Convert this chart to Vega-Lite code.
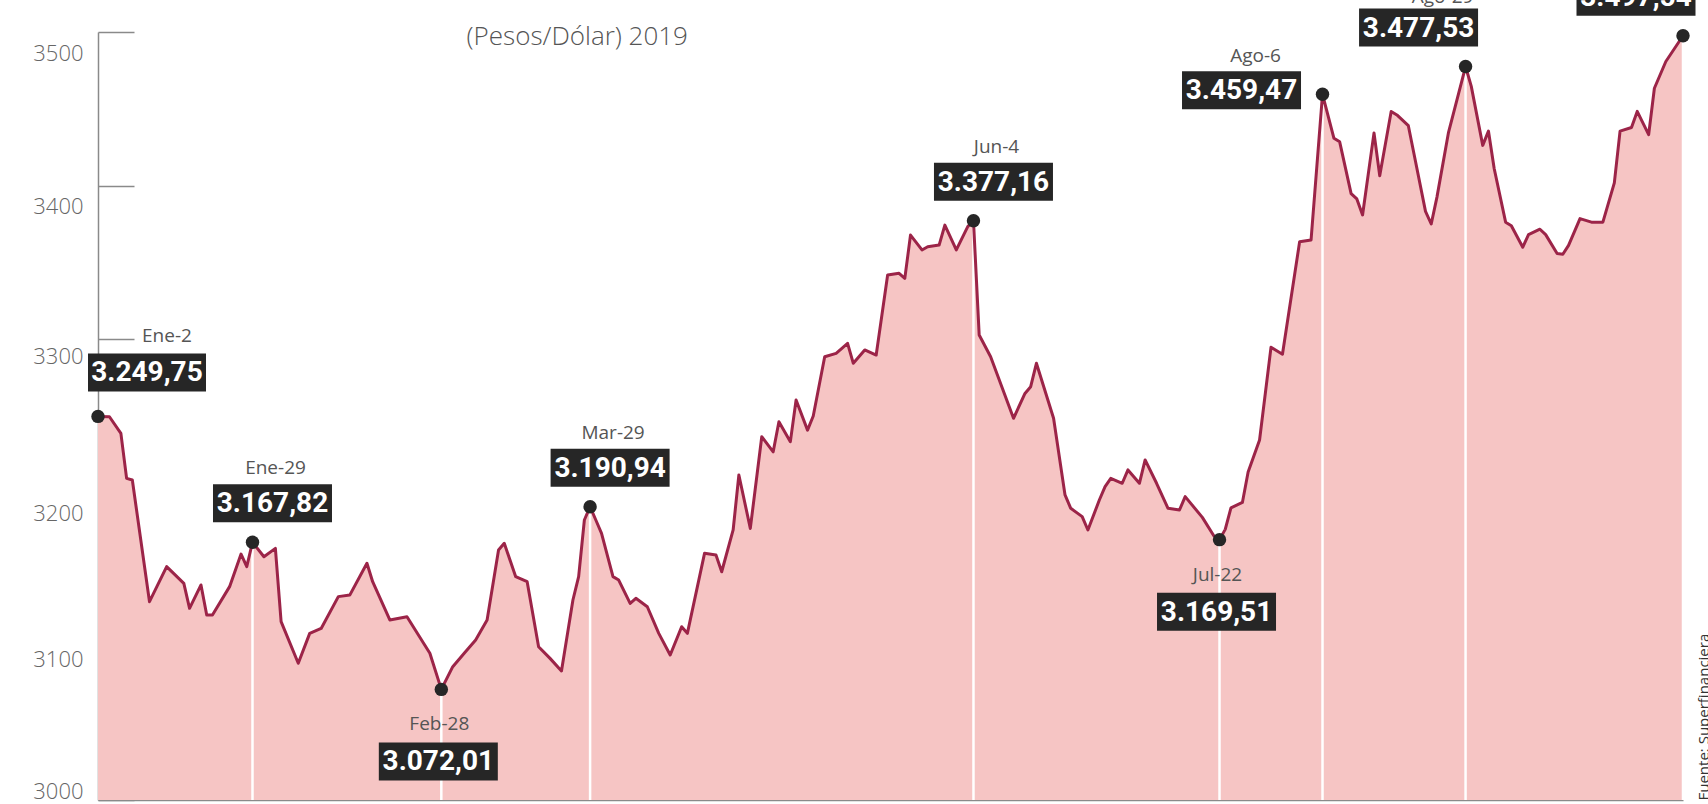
{
  "$schema": "https://vega.github.io/schema/vega-lite/v6.json",
  "width": 1585,
  "height": 768,
  "autosize": {"type": "none"},
  "padding": {"left": 98, "top": 32, "right": 25, "bottom": 4},
  "background": "white",
  "config": {
    "view": {"stroke": null},
    "locale": {"number": {"decimal": ",", "thousands": ".", "grouping": [3], "currency": ["$", ""]}},
    "font": "Open Sans"
  },
  "datasets": {
    "trm": [
      {"fecha": "2019-01-02", "valor": 3249.75},
      {"fecha": "2019-01-04", "valor": 3249.5},
      {"fecha": "2019-01-06", "valor": 3238.7},
      {"fecha": "2019-01-07", "valor": 3209.4},
      {"fecha": "2019-01-08", "valor": 3208.3},
      {"fecha": "2019-01-11", "valor": 3129.1},
      {"fecha": "2019-01-14", "valor": 3151.9},
      {"fecha": "2019-01-17", "valor": 3141.0},
      {"fecha": "2019-01-18", "valor": 3124.8},
      {"fecha": "2019-01-20", "valor": 3140.0},
      {"fecha": "2019-01-21", "valor": 3120.4},
      {"fecha": "2019-01-22", "valor": 3120.4},
      {"fecha": "2019-01-25", "valor": 3138.9},
      {"fecha": "2019-01-27", "valor": 3160.1},
      {"fecha": "2019-01-28", "valor": 3151.9},
      {"fecha": "2019-01-29", "valor": 3167.82},
      {"fecha": "2019-01-31", "valor": 3158.4},
      {"fecha": "2019-02-02", "valor": 3163.8},
      {"fecha": "2019-02-03", "valor": 3116.1},
      {"fecha": "2019-02-06", "valor": 3089.0},
      {"fecha": "2019-02-08", "valor": 3108.5},
      {"fecha": "2019-02-10", "valor": 3111.7},
      {"fecha": "2019-02-13", "valor": 3132.4},
      {"fecha": "2019-02-15", "valor": 3133.4},
      {"fecha": "2019-02-18", "valor": 3154.1},
      {"fecha": "2019-02-19", "valor": 3142.1},
      {"fecha": "2019-02-22", "valor": 3117.2},
      {"fecha": "2019-02-25", "valor": 3119.3},
      {"fecha": "2019-02-27", "valor": 3107.4},
      {"fecha": "2019-03-01", "valor": 3095.5},
      {"fecha": "2019-03-03", "valor": 3072.01},
      {"fecha": "2019-03-05", "valor": 3086.8},
      {"fecha": "2019-03-07", "valor": 3095.5},
      {"fecha": "2019-03-09", "valor": 3104.2},
      {"fecha": "2019-03-11", "valor": 3117.2},
      {"fecha": "2019-03-13", "valor": 3162.7},
      {"fecha": "2019-03-14", "valor": 3167.1},
      {"fecha": "2019-03-16", "valor": 3145.4},
      {"fecha": "2019-03-18", "valor": 3142.1},
      {"fecha": "2019-03-20", "valor": 3099.8},
      {"fecha": "2019-03-22", "valor": 3092.2},
      {"fecha": "2019-03-24", "valor": 3084.0},
      {"fecha": "2019-03-26", "valor": 3130.2},
      {"fecha": "2019-03-27", "valor": 3145.4},
      {"fecha": "2019-03-28", "valor": 3182.3},
      {"fecha": "2019-03-29", "valor": 3190.94},
      {"fecha": "2019-03-30", "valor": 3182.3},
      {"fecha": "2019-03-31", "valor": 3173.6},
      {"fecha": "2019-04-02", "valor": 3145.4},
      {"fecha": "2019-04-03", "valor": 3143.2},
      {"fecha": "2019-04-05", "valor": 3128.0},
      {"fecha": "2019-04-06", "valor": 3131.3},
      {"fecha": "2019-04-08", "valor": 3125.8},
      {"fecha": "2019-04-10", "valor": 3108.5},
      {"fecha": "2019-04-12", "valor": 3094.4},
      {"fecha": "2019-04-14", "valor": 3112.8},
      {"fecha": "2019-04-15", "valor": 3108.5},
      {"fecha": "2019-04-18", "valor": 3160.6},
      {"fecha": "2019-04-20", "valor": 3159.5},
      {"fecha": "2019-04-21", "valor": 3148.6},
      {"fecha": "2019-04-23", "valor": 3175.8},
      {"fecha": "2019-04-24", "valor": 3211.6},
      {"fecha": "2019-04-26", "valor": 3176.8},
      {"fecha": "2019-04-28", "valor": 3236.5},
      {"fecha": "2019-04-30", "valor": 3226.7},
      {"fecha": "2019-05-01", "valor": 3246.3},
      {"fecha": "2019-05-03", "valor": 3233.3},
      {"fecha": "2019-05-04", "valor": 3260.4},
      {"fecha": "2019-05-06", "valor": 3240.8},
      {"fecha": "2019-05-07", "valor": 3250.0},
      {"fecha": "2019-05-09", "valor": 3288.6},
      {"fecha": "2019-05-11", "valor": 3290.8},
      {"fecha": "2019-05-13", "valor": 3297.3},
      {"fecha": "2019-05-14", "valor": 3284.3},
      {"fecha": "2019-05-16", "valor": 3293.0},
      {"fecha": "2019-05-18", "valor": 3289.7},
      {"fecha": "2019-05-20", "valor": 3341.8},
      {"fecha": "2019-05-22", "valor": 3342.9},
      {"fecha": "2019-05-23", "valor": 3339.6},
      {"fecha": "2019-05-24", "valor": 3367.8},
      {"fecha": "2019-05-26", "valor": 3358.1},
      {"fecha": "2019-05-27", "valor": 3360.2},
      {"fecha": "2019-05-29", "valor": 3361.3},
      {"fecha": "2019-05-30", "valor": 3374.3},
      {"fecha": "2019-06-01", "valor": 3358.1},
      {"fecha": "2019-06-03", "valor": 3373.3},
      {"fecha": "2019-06-04", "valor": 3377.16},
      {"fecha": "2019-06-05", "valor": 3302.7},
      {"fecha": "2019-06-07", "valor": 3288.6},
      {"fecha": "2019-06-11", "valor": 3248.5},
      {"fecha": "2019-06-13", "valor": 3264.7},
      {"fecha": "2019-06-14", "valor": 3269.1},
      {"fecha": "2019-06-15", "valor": 3284.3},
      {"fecha": "2019-06-18", "valor": 3248.5},
      {"fecha": "2019-06-20", "valor": 3198.6},
      {"fecha": "2019-06-21", "valor": 3189.9},
      {"fecha": "2019-06-23", "valor": 3184.5},
      {"fecha": "2019-06-24", "valor": 3175.8},
      {"fecha": "2019-06-26", "valor": 3195.3},
      {"fecha": "2019-06-27", "valor": 3204.0},
      {"fecha": "2019-06-28", "valor": 3209.4},
      {"fecha": "2019-06-30", "valor": 3206.2},
      {"fecha": "2019-07-01", "valor": 3214.9},
      {"fecha": "2019-07-03", "valor": 3206.2},
      {"fecha": "2019-07-04", "valor": 3221.4},
      {"fecha": "2019-07-06", "valor": 3206.2},
      {"fecha": "2019-07-08", "valor": 3189.9},
      {"fecha": "2019-07-10", "valor": 3188.8},
      {"fecha": "2019-07-11", "valor": 3197.5},
      {"fecha": "2019-07-14", "valor": 3184.0},
      {"fecha": "2019-07-16", "valor": 3172.0},
      {"fecha": "2019-07-17", "valor": 3169.51},
      {"fecha": "2019-07-18", "valor": 3176.2},
      {"fecha": "2019-07-19", "valor": 3190.2},
      {"fecha": "2019-07-21", "valor": 3193.7},
      {"fecha": "2019-07-22", "valor": 3213.5},
      {"fecha": "2019-07-24", "valor": 3234.4},
      {"fecha": "2019-07-26", "valor": 3294.8},
      {"fecha": "2019-07-28", "valor": 3290.2},
      {"fecha": "2019-07-31", "valor": 3363.4},
      {"fecha": "2019-08-02", "valor": 3364.6},
      {"fecha": "2019-08-04", "valor": 3459.47},
      {"fecha": "2019-08-06", "valor": 3430.8},
      {"fecha": "2019-08-07", "valor": 3428.5},
      {"fecha": "2019-08-09", "valor": 3394.8},
      {"fecha": "2019-08-10", "valor": 3391.3},
      {"fecha": "2019-08-11", "valor": 3380.9},
      {"fecha": "2019-08-13", "valor": 3434.3},
      {"fecha": "2019-08-14", "valor": 3406.4},
      {"fecha": "2019-08-16", "valor": 3448.3},
      {"fecha": "2019-08-17", "valor": 3446.0},
      {"fecha": "2019-08-19", "valor": 3439.0},
      {"fecha": "2019-08-20", "valor": 3420.4},
      {"fecha": "2019-08-22", "valor": 3383.2},
      {"fecha": "2019-08-23", "valor": 3375.0},
      {"fecha": "2019-08-24", "valor": 3392.5},
      {"fecha": "2019-08-26", "valor": 3434.3},
      {"fecha": "2019-08-29", "valor": 3477.53},
      {"fecha": "2019-08-30", "valor": 3464.6},
      {"fecha": "2019-09-01", "valor": 3426.2},
      {"fecha": "2019-09-02", "valor": 3435.5},
      {"fecha": "2019-09-03", "valor": 3411.1},
      {"fecha": "2019-09-05", "valor": 3376.2},
      {"fecha": "2019-09-06", "valor": 3373.9},
      {"fecha": "2019-09-08", "valor": 3359.9},
      {"fecha": "2019-09-09", "valor": 3368.1},
      {"fecha": "2019-09-11", "valor": 3371.6},
      {"fecha": "2019-09-12", "valor": 3368.1},
      {"fecha": "2019-09-14", "valor": 3355.8},
      {"fecha": "2019-09-15", "valor": 3355.3},
      {"fecha": "2019-09-16", "valor": 3361.1},
      {"fecha": "2019-09-18", "valor": 3378.5},
      {"fecha": "2019-09-20", "valor": 3376.2},
      {"fecha": "2019-09-22", "valor": 3376.2},
      {"fecha": "2019-09-24", "valor": 3401.8},
      {"fecha": "2019-09-25", "valor": 3435.5},
      {"fecha": "2019-09-27", "valor": 3437.8},
      {"fecha": "2019-09-28", "valor": 3448.3},
      {"fecha": "2019-09-30", "valor": 3433.2},
      {"fecha": "2019-10-01", "valor": 3463.4},
      {"fecha": "2019-10-03", "valor": 3480.8},
      {"fecha": "2019-10-06", "valor": 3497.54}
    ],
    "destacados": [
      {"fecha": "2019-01-02", "valor": 3249.75, "etiqueta": "Ene-2"},
      {"fecha": "2019-01-29", "valor": 3167.82, "etiqueta": "Ene-29"},
      {"fecha": "2019-03-03", "valor": 3072.01, "etiqueta": "Feb-28"},
      {"fecha": "2019-03-29", "valor": 3190.94, "etiqueta": "Mar-29"},
      {"fecha": "2019-06-04", "valor": 3377.16, "etiqueta": "Jun-4"},
      {"fecha": "2019-07-17", "valor": 3169.51, "etiqueta": "Jul-22"},
      {"fecha": "2019-08-04", "valor": 3459.47, "etiqueta": "Ago-6"},
      {"fecha": "2019-08-29", "valor": 3477.53, "etiqueta": "Ago-29"},
      {"fecha": "2019-10-06", "valor": 3497.54, "etiqueta": null}
    ]
  },
  "layer": [
    {
      "data": {"name": "trm"},
      "mark": {"type": "area", "color": "#f6c5c4", "opacity": 1},
      "encoding": {
        "x": {
          "field": "fecha", "type": "temporal",
          "scale": {"nice": false},
          "axis": {
            "orient": "bottom", "domain": true, "domainColor": "#8a8a8a", "domainWidth": 1.5,
            "ticks": false, "labels": false, "grid": false,
            "title": "Fuente: Superfinanciera", "titleAngle": 270, "titleX": 1605, "titleY": 0,
            "titleAlign": "left", "titleBaseline": "middle", "titleFontSize": 15,
            "titleFontWeight": "normal", "titleColor": "#333333", "titleFont": "Open Sans"
          }
        },
        "y": {
          "field": "valor", "type": "quantitative",
          "scale": {"domain": [3000, 3500], "nice": false, "zero": false},
          "axis": {
            "orient": "left", "values": [3000, 3100, 3200, 3300, 3400, 3500], "format": "d",
            "domain": true, "domainColor": "#8a8a8a", "domainWidth": 1.5,
            "ticks": true, "tickSize": -36, "tickColor": "#8a8a8a", "tickWidth": 1.5,
            "labelPadding": 51, "labelFontSize": 22, "labelFont": "Open Sans", "labelFontWeight": 300,
            "labelColor": "#666666",
            "labelOffset": {
              "condition": [
                {"test": "datum.value == 3000", "value": -9},
                {"test": "datum.value == 3300", "value": 17},
                {"test": "datum.value == 3100", "value": 13}
              ],
              "value": 21
            },
            "grid": false,
            "title": "(Pesos/Dólar) 2019", "titleAngle": 0, "titleX": 368, "titleY": 4,
            "titleAlign": "left", "titleBaseline": "middle", "titleFontSize": 26,
            "titleFontWeight": 300, "titleColor": "#555555", "titleFont": "Open Sans"
          }
        },
        "y2": {"datum": 3000}
      }
    },
    {
      "data": {"name": "destacados"},
      "transform": [{"filter": "datum.etiqueta !== 'Ene-2'"}],
      "mark": {"type": "rule", "color": "white", "strokeWidth": 2.5},
      "encoding": {
        "x": {"field": "fecha", "type": "temporal"},
        "y": {"field": "valor", "type": "quantitative"},
        "y2": {"datum": 3000}
      }
    },
    {
      "data": {"name": "trm"},
      "mark": {"type": "line", "color": "#9c2448", "strokeWidth": 3, "strokeJoin": "round"},
      "encoding": {
        "x": {"field": "fecha", "type": "temporal"},
        "y": {"field": "valor", "type": "quantitative"}
      }
    },
    {
      "data": {"name": "destacados"},
      "mark": {"type": "point", "filled": true, "color": "#262626", "size": 180, "opacity": 1},
      "encoding": {
        "x": {"field": "fecha", "type": "temporal"},
        "y": {"field": "valor", "type": "quantitative"}
      }
    },
    {
      "data": {"name": "destacados"},
      "transform": [{"filter": {"field": "etiqueta", "equal": "Ene-2"}}],
      "encoding": {
        "x": {"field": "fecha", "type": "temporal"},
        "y": {"field": "valor", "type": "quantitative"}
      },
      "layer": [
        {"mark": {"type": "rect", "width": 118, "height": 38, "xOffset": 49, "yOffset": -44, "color": "#262626"}},
        {"mark": {"type": "text", "dx": 49, "dy": -43, "align": "center", "baseline": "middle", "color": "white", "font": "Roboto", "fontWeight": "bold", "fontSize": 28},
         "encoding": {"text": {"field": "valor", "type": "quantitative", "format": ",.2f"}}},
        {"mark": {"type": "text", "dx": 44, "dy": -80, "align": "left", "baseline": "middle", "color": "#555555", "font": "Open Sans", "fontSize": 19},
         "encoding": {"text": {"field": "etiqueta"}}}
      ]
    },
    {
      "data": {"name": "destacados"},
      "transform": [{"filter": {"field": "etiqueta", "oneOf": ["Ene-29", "Mar-29", "Jun-4"]}}],
      "encoding": {
        "x": {"field": "fecha", "type": "temporal"},
        "y": {"field": "valor", "type": "quantitative"}
      },
      "layer": [
        {"mark": {"type": "rect", "width": 119, "height": 38, "xOffset": 20, "yOffset": -39, "color": "#262626"}},
        {"mark": {"type": "text", "dx": 20, "dy": -38, "align": "center", "baseline": "middle", "color": "white", "font": "Roboto", "fontWeight": "bold", "fontSize": 28},
         "encoding": {"text": {"field": "valor", "type": "quantitative", "format": ",.2f"}}},
        {"mark": {"type": "text", "dx": 23, "dy": -74, "align": "center", "baseline": "middle", "color": "#555555", "font": "Open Sans", "fontSize": 19},
         "encoding": {"text": {"field": "etiqueta"}}}
      ]
    },
    {
      "data": {"name": "destacados"},
      "transform": [{"filter": {"field": "etiqueta", "oneOf": ["Feb-28", "Jul-22"]}}],
      "encoding": {
        "x": {"field": "fecha", "type": "temporal"},
        "y": {"field": "valor", "type": "quantitative"}
      },
      "layer": [
        {"mark": {"type": "rect", "width": 119, "height": 38, "xOffset": -3, "yOffset": 72, "color": "#262626"}},
        {"mark": {"type": "text", "dx": -3, "dy": 73, "align": "center", "baseline": "middle", "color": "white", "font": "Roboto", "fontWeight": "bold", "fontSize": 28},
         "encoding": {"text": {"field": "valor", "type": "quantitative", "format": ",.2f"}}},
        {"mark": {"type": "text", "dx": -2, "dy": 35, "align": "center", "baseline": "middle", "color": "#555555", "font": "Open Sans", "fontSize": 19},
         "encoding": {"text": {"field": "etiqueta"}}}
      ]
    },
    {
      "data": {"name": "destacados"},
      "transform": [{"filter": {"field": "etiqueta", "equal": "Ago-6"}}],
      "encoding": {
        "x": {"field": "fecha", "type": "temporal"},
        "y": {"field": "valor", "type": "quantitative"}
      },
      "layer": [
        {"mark": {"type": "rect", "width": 119, "height": 38, "xOffset": -81, "yOffset": -4, "color": "#262626"}},
        {"mark": {"type": "text", "dx": -81, "dy": -3, "align": "center", "baseline": "middle", "color": "white", "font": "Roboto", "fontWeight": "bold", "fontSize": 28},
         "encoding": {"text": {"field": "valor", "type": "quantitative", "format": ",.2f"}}},
        {"mark": {"type": "text", "dx": -67, "dy": -38, "align": "center", "baseline": "middle", "color": "#555555", "font": "Open Sans", "fontSize": 19},
         "encoding": {"text": {"field": "etiqueta"}}}
      ]
    },
    {
      "data": {"name": "destacados"},
      "transform": [{"filter": "datum.etiqueta === 'Ago-29' || datum.etiqueta === null"}],
      "encoding": {
        "x": {"field": "fecha", "type": "temporal"},
        "y": {"field": "valor", "type": "quantitative"}
      },
      "layer": [
        {"mark": {"type": "rect", "width": 119, "height": 38, "xOffset": -47, "yOffset": -39, "color": "#262626"}},
        {"mark": {"type": "text", "dx": -47, "dy": -38, "align": "center", "baseline": "middle", "color": "white", "font": "Roboto", "fontWeight": "bold", "fontSize": 28},
         "encoding": {"text": {"field": "valor", "type": "quantitative", "format": ",.2f"}}},
        {"transform": [{"filter": "datum.etiqueta !== null"}],
         "mark": {"type": "text", "dx": -23, "dy": -70, "align": "center", "baseline": "middle", "color": "#555555", "font": "Open Sans", "fontSize": 19},
         "encoding": {"text": {"field": "etiqueta"}}}
      ]
    }
  ]
}
